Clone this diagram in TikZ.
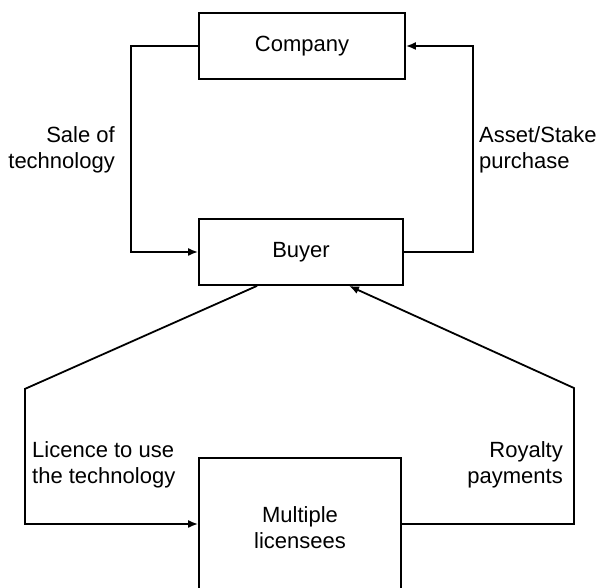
\documentclass[tikz,border=0pt]{standalone}
\usepackage{fontspec}
\setmainfont{Liberation Sans}
\usetikzlibrary{arrows.meta}
\begin{document}
\begin{tikzpicture}[x=1pt,y=1pt,
        box/.style={draw,line width=1.8pt,inner sep=0pt,align=center,font=\fontsize{22}{26}\selectfont},
        lbl/.style={inner sep=0pt,font=\fontsize{22}{26}\selectfont},
        flow/.style={line width=1.8pt,-{Latex[length=10pt,width=8pt]}}]
    \path[use as bounding box,clip] (0,0) rectangle (600,588);
    \fill[white] (0,0) rectangle (600,588);
    \node[box,minimum width=206,minimum height=66] (company) at (302,542) {Company};
    \node[box,minimum width=204,minimum height=66] (buyer) at (301,336) {Buyer};
    \node[box,minimum width=202,minimum height=140] (multi) at (300,60) {Multiple\\licensees};
    \node[lbl,anchor=east,align=right] (sale) at (115,438) {Sale of\\technology};
    \node[lbl,anchor=west,align=left] (asset) at (479,438) {Asset/Stake\\purchase};
    \node[lbl,anchor=west,align=left] (licence) at (32,123) {Licence to use\\the technology};
    \node[lbl,anchor=east,align=right] (royalty) at (563,123) {Royalty\\payments};
    \draw[flow] (company.west) -- ++(-67,0) |- (buyer.west);
    \draw[flow] (buyer.east) -- ++(69,0) |- (company.east);
    \draw[flow] ([xshift=-44pt]buyer.south) -- ++(-232,-103) |- ([yshift=4pt]multi.west);
    \draw[flow] ([yshift=4pt]multi.east) -| ++(172,136) -- ([xshift=48pt]buyer.south);
\end{tikzpicture}
\end{document}
